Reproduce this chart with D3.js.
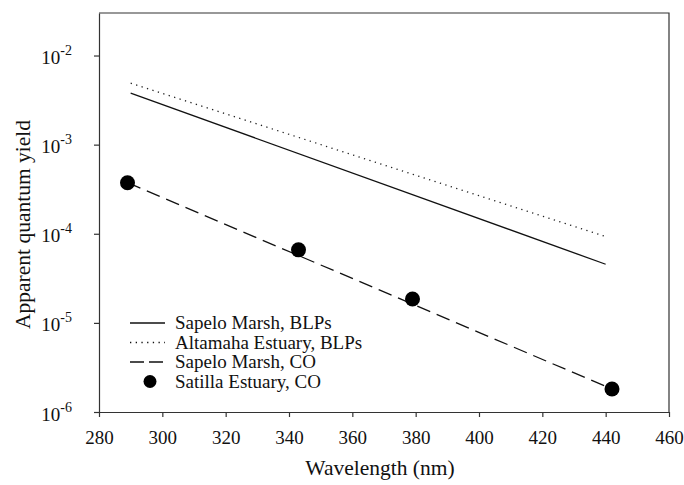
<!DOCTYPE html>
<html>
<head>
<meta charset="utf-8">
<script src="https://cdn.jsdelivr.net/npm/d3@7"></script>
<style>
  body { margin: 0; background: #fff; }
  text { font-family: "Liberation Serif", "Times New Roman", serif; fill: #111; }
</style>
</head>
<body>
<div id="chart"></div>
<script>
// data
var blpWavelength = [290, 440];
var sapeloBLP = [3.78e-3, 4.55e-5];
var altamahaBLP = [4.89e-3, 9.3e-5];
var coWavelength = [289, 442];
var sapeloCO = [3.74e-4, 1.81e-6];
var satillaWavelength = [289, 343, 379, 442];
var satillaCO = [3.74e-4, 6.6e-5, 1.85e-5, 1.81e-6];
var xTicks = [280, 300, 320, 340, 360, 380, 400, 420, 440, 460];
var yTicks = [1e-6, 1e-5, 1e-4, 1e-3, 1e-2];
var legendLabels = ["Sapelo Marsh, BLPs", "Altamaha Estuary, BLPs", "Sapelo Marsh, CO", "Satilla Estuary, CO"];

var width = 684, height = 485;
var margin = { top: 13, right: 15, bottom: 73, left: 99 };
var w = width - margin.left - margin.right;
var h = height - margin.top - margin.bottom;

var svg = d3.select("#chart").append("svg")
    .attr("width", width)
    .attr("height", height);

var g = svg.append("g")
    .attr("transform", "translate(" + margin.left + "," + margin.top + ")");

var x = d3.scaleLinear().domain([280, 460]).range([0, w]);
var y = d3.scaleLog().domain([1e-6, 3e-2]).range([h, 0]);

// frame (top + right)
g.append("path")
    .attr("d", "M0,0H" + w + "V" + h)
    .attr("fill", "none")
    .attr("stroke", "#333")
    .attr("stroke-width", 1.2);

// x axis
var xAxis = g.append("g")
    .attr("transform", "translate(0," + h + ")")
    .call(d3.axisBottom(x).tickValues(xTicks).tickSize(5).tickSizeOuter(0).tickPadding(14));
xAxis.select(".domain").attr("stroke", "#333").attr("stroke-width", 1.2);
xAxis.selectAll(".tick line").attr("stroke", "#333").attr("stroke-width", 1.2);
xAxis.selectAll("text").style("font-size", "19px").attr("fill", "#111");

// y axis
var yAxis = g.append("g")
    .call(d3.axisLeft(y).tickValues(yTicks).tickSize(5).tickSizeOuter(0).tickFormat(""));
yAxis.select(".domain").attr("stroke", "#333").attr("stroke-width", 1.2);
yAxis.selectAll(".tick line").attr("stroke", "#333").attr("stroke-width", 1.2);

yAxis.selectAll(".tick").each(function (d) {
    var t = d3.select(this).append("text")
        .attr("x", -27)
        .attr("y", 8)
        .attr("text-anchor", "end")
        .style("font-size", "19px");
    t.append("tspan").text("10");
    t.append("tspan")
        .attr("dy", -9)
        .style("font-size", "14px")
        .text(String(Math.round(Math.log10(d))));
});

// lines
var line = d3.line().x(d => x(d[0])).y(d => y(d[1]));

g.append("path")
    .datum(d3.zip(blpWavelength, sapeloBLP))
    .attr("d", line)
    .attr("fill", "none")
    .attr("stroke", "#111")
    .attr("stroke-width", 1.3);

g.append("path")
    .datum(d3.zip(blpWavelength, altamahaBLP))
    .attr("d", line)
    .attr("fill", "none")
    .attr("stroke", "#222")
    .attr("stroke-width", 1.3)
    .attr("stroke-dasharray", "1.3,4.4");

g.append("path")
    .datum(d3.zip(coWavelength, sapeloCO))
    .attr("d", line)
    .attr("fill", "none")
    .attr("stroke", "#111")
    .attr("stroke-width", 1.3)
    .attr("stroke-dasharray", "14,7");

g.selectAll(".dot")
    .data(d3.zip(satillaWavelength, satillaCO))
    .enter()
    .append("circle")
    .attr("class", "dot")
    .attr("cx", d => x(d[0]))
    .attr("cy", d => y(d[1]))
    .attr("r", 7.5)
    .attr("fill", "#000");

// legend
var legend = svg.append("g").attr("transform", "translate(130,323)");
var dashes = [null, "1.3,4.4", "14,5"];
legendLabels.forEach(function (label, i) {
    var row = legend.append("g").attr("transform", "translate(0," + i * 19.5 + ")");
    if (i < 3) {
        row.append("line")
            .attr("x1", 0).attr("x2", 35)
            .attr("stroke", "#111")
            .attr("stroke-width", 1.3)
            .attr("stroke-dasharray", dashes[i]);
    } else {
        row.append("circle").attr("cx", 20).attr("cy", 0).attr("r", 6.5).attr("fill", "#000");
    }
    row.append("text")
        .attr("x", 45)
        .attr("y", 6)
        .style("font-size", "19px")
        .text(label);
});

// axis titles
svg.append("text")
    .attr("x", margin.left + w / 2 - 4)
    .attr("y", 475)
    .attr("text-anchor", "middle")
    .style("font-size", "21.5px")
    .text("Wavelength (nm)");

svg.append("text")
    .attr("transform", "translate(30," + (margin.top + h / 2 + 12) + ") rotate(-90)")
    .attr("text-anchor", "middle")
    .style("font-size", "21.5px")
    .text("Apparent quantum yield");
</script>
</body>
</html>
